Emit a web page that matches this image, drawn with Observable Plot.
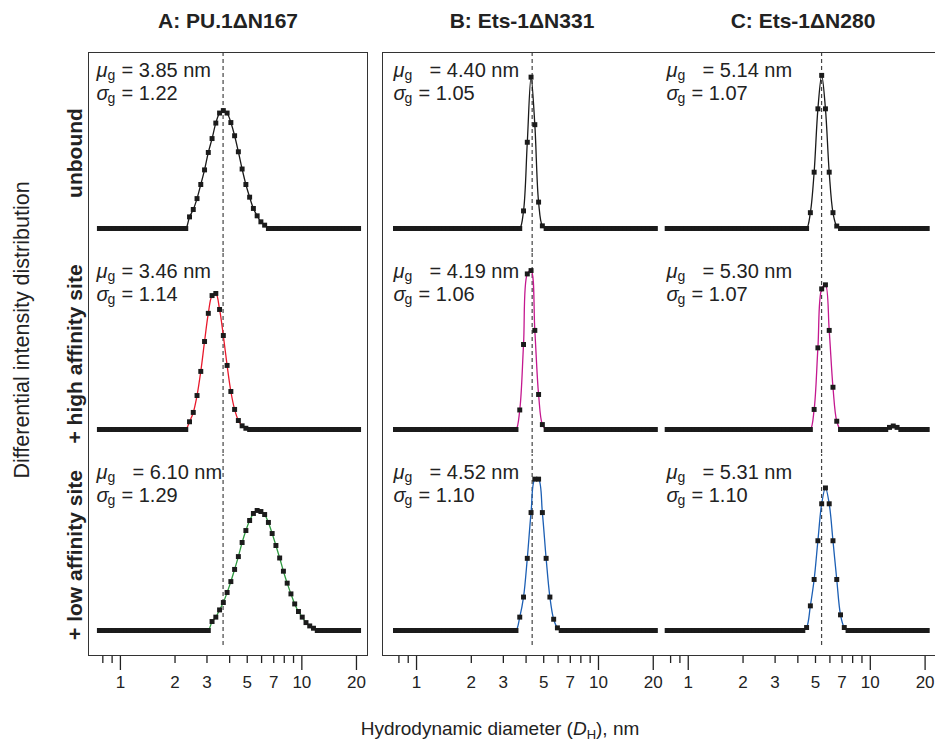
<!DOCTYPE html>
<html><head><meta charset="utf-8">
<script src="https://cdn.jsdelivr.net/npm/d3@7"></script>
<script src="https://cdn.jsdelivr.net/npm/@observablehq/plot@0.6"></script>
<style>
html,body{margin:0;padding:0;background:#fff;}
#fig{position:relative;width:935px;height:741px;overflow:hidden;font-family:"Liberation Sans",Arial,sans-serif;color:#222;}
.abs{position:absolute;top:0;}
.abs svg{max-width:none !important;}
.ttl{position:absolute;top:9px;font-weight:bold;font-size:21px;transform:translateX(-50%);white-space:nowrap;font-family:"Liberation Sans Narrow","Liberation Sans",sans-serif;}
.box{position:absolute;border:1.6px solid #333;box-sizing:border-box;}
.xt{position:absolute;top:718px;left:500px;transform:translateX(-50%);font-size:19px;white-space:nowrap;}
.xt sub{font-size:13px;vertical-align:-4px;}
</style></head>
<body><div id="fig"></div>
<script>
// ---------- data ----------
const rows = ["unbound", "high", "low"];
const rowLabels = ["unbound", "+ high affinity site", "+ low affinity site"];
const panelTitles = ["A: PU.1\u0394N167", "B: Ets-1\u0394N331", "C: Ets-1\u0394N280"];
// DLS size bins (nm)
const binsNm = [0.766,0.803,0.843,0.884,0.927,0.972,1.020,1.069,1.121,1.176,1.234,1.294,1.357,1.423,1.493,1.565,1.642,1.722,1.806,1.894,1.987,2.084,2.185,2.292,2.404,2.521,2.644,2.773,2.909,3.051,3.200,3.356,3.520,3.692,3.873,4.062,4.260,4.468,4.686,4.915,5.155,5.407,5.671,5.947,6.237,6.542,6.861,7.196,7.547,7.915,8.302,8.707,9.132,9.578,10.05,10.54,11.05,11.59,12.16,12.75,13.37,14.03,14.71,15.43,16.18,16.97,17.80,18.67,19.58,20.54];
// non-zero parts of each distribution: first bin index + values (arbitrary units)
const aUnboundStart = 24, aUnbound = [0.066,0.108,0.170,0.250,0.333,0.432,0.511,0.599,0.656,0.670,0.656,0.602,0.527,0.436,0.338,0.250,0.178,0.114,0.072,0.038,0.019];
const aHighStart = 24, aHigh = [0.044,0.097,0.193,0.330,0.500,0.660,0.761,0.773,0.682,0.534,0.364,0.216,0.114,0.051,0.021,0.007];
const aLowStart = 30, aLow = [0.051,0.076,0.117,0.159,0.216,0.278,0.347,0.420,0.500,0.568,0.625,0.665,0.682,0.676,0.659,0.614,0.551,0.483,0.412,0.337,0.269,0.208,0.151,0.108,0.076,0.045,0.026,0.013];
const bUnboundStart = 34, bUnbound = [0.10,0.49,0.86,0.59,0.15,0.015];
const bHighStart = 33, bHigh = [0.111,0.483,0.884,0.903,0.563,0.199,0.028];
const bLowStart = 33, bLow = [0.076,0.19,0.41,0.67,0.86,0.86,0.67,0.41,0.19,0.064,0.015];
const cUnboundStart = 38, cUnbound = [0.09,0.32,0.68,0.87,0.68,0.32,0.09,0.014];
const cHighStart = 39, cHigh = [0.114,0.464,0.799,0.822,0.563,0.24,0.047];
const cHighBumpStart = 59, cHighBump = [0.012,0.02,0.012];
const cLowStart = 37, cLow = [0.017,0.14,0.29,0.51,0.72,0.81,0.72,0.51,0.29,0.089,0.017];
// annotations
const muA = ["= 3.85 nm", "= 3.46 nm", "\u00a0\u00a0= 6.10 nm"];
const sigmaA = ["= 1.22", "= 1.14", "= 1.29"];
const muB = ["\u00a0\u00a0= 4.40 nm", "\u00a0\u00a0= 4.19 nm", "\u00a0\u00a0= 4.52 nm"];
const sigmaB = ["= 1.05", "= 1.06", "= 1.10"];
const muC = ["\u00a0\u00a0= 5.14 nm", "\u00a0\u00a0= 5.30 nm", "\u00a0\u00a0= 5.31 nm"];
const sigmaC = ["= 1.07", "= 1.07", "= 1.10"];
const dashedX = [3.68, 4.32, 5.40];  // unbound peak reference
const minorTicks = [0.8, 0.9, 2, 3, 4, 5, 6, 7, 8, 9];
const majorTicks = [1, 10, 20];
const tickLabels = [1, 2, 3, 5, 7, 10, 20];
const colorsA = ["#1a1a1a", "#e8192c", "#2f9a41"];
const colorsBC = ["#1a1a1a", "#c4188f", "#1c5fb4"];

// ---------- build ----------
function series(parts) {
  return binsNm.map((x, i) => {
    let y = 0;
    for (const [s, v] of parts) if (i >= s && i < s + v.length) y = v[i - s];
    return {x, y};
  });
}
const columns = [
  {peaks: [[[aUnboundStart, aUnbound]], [[aHighStart, aHigh]], [[aLowStart, aLow]]], mu: muA, sigma: sigmaA, colors: colorsA,
   domain: [0.667, 23.3], left: 0, mL: 88, w: 280, dx: 8},
  {peaks: [[[bUnboundStart, bUnbound]], [[bHighStart, bHigh]], [[bLowStart, bLow]]], mu: muB, sigma: sigmaB, colors: colorsBC,
   domain: [0.650, 22.2], left: 372, mL: 10, w: 279, dx: 11},
  {peaks: [[[cUnboundStart, cUnbound]], [[cHighStart, cHigh], [cHighBumpStart, cHighBump]], [[cLowStart, cLow]]], mu: muC, sigma: sigmaC, colors: colorsBC,
   domain: [0.713, 24.3], left: 651, mL: 10, w: 279, dx: 5}
];

const fig = document.getElementById("fig");
const FS = 20;

columns.forEach((col, c) => {
  const data = [];
  rows.forEach((r, k) => series(col.peaks[k]).forEach(d => data.push({...d, row: r})));
  const ann = rows.map((r, k) => ({row: r, mu: col.mu[k], sigma: col.sigma[k], label: rowLabels[k]}));
  const marks = [
    Plot.ruleX(rows.slice(0, 2), {x: () => dashedX[c], fy: d => d, stroke: "#444", strokeWidth: 1.2, strokeDasharray: "4,3"}),
    Plot.ruleX(rows.slice(2), {x: () => dashedX[c], fy: d => d, y1: -0.085, y2: 1, stroke: "#444", strokeWidth: 1.2, strokeDasharray: "4,3"}),
    Plot.line(data, {x: "x", y: "y", fy: "row", z: "row", stroke: "row", strokeWidth: 1.3, curve: "catmull-rom"}),
    Plot.dot(data, {x: "x", y: "y", fy: "row", symbol: "square", r: 2.8, fill: "#1b1b1b", stroke: null}),
    // annotations
    Plot.text(ann, {fy: "row", text: () => "\u03bc", frameAnchor: "top-left", dx: col.dx, dy: 10, fontSize: FS, fontStyle: "italic", lineAnchor: "top", textAnchor: "start", fill: "#222"}),
    Plot.text(ann, {fy: "row", text: () => "g", frameAnchor: "top-left", dx: col.dx + 11, dy: 18, fontSize: 14, lineAnchor: "top", textAnchor: "start", fill: "#222"}),
    Plot.text(ann, {fy: "row", text: "mu", frameAnchor: "top-left", dx: col.dx + 25, dy: 10, fontSize: FS, lineAnchor: "top", textAnchor: "start", fill: "#222"}),
    Plot.text(ann, {fy: "row", text: () => "\u03c3", frameAnchor: "top-left", dx: col.dx, dy: 33, fontSize: FS, fontStyle: "italic", lineAnchor: "top", textAnchor: "start", fill: "#222"}),
    Plot.text(ann, {fy: "row", text: () => "g", frameAnchor: "top-left", dx: col.dx + 11, dy: 41, fontSize: 14, lineAnchor: "top", textAnchor: "start", fill: "#222"}),
    Plot.text(ann, {fy: "row", text: "sigma", frameAnchor: "top-left", dx: col.dx + 25, dy: 33, fontSize: FS, lineAnchor: "top", textAnchor: "start", fill: "#222"}),
    // x axis
    Plot.axisX({ticks: minorTicks, tickSize: 8, tickFormat: () => "", label: null, strokeWidth: 1.3, stroke: "#222"}),
    Plot.axisX({ticks: majorTicks, tickSize: 15, tickFormat: () => "", label: null, strokeWidth: 1.3, stroke: "#222"}),
    Plot.axisX({ticks: tickLabels, tickSize: 0, tickPadding: 20, tickFormat: d => String(d), label: null, fontSize: 17, fill: "#222"})
  ];
  if (c === 0) {
    marks.push(Plot.text(ann, {fy: "row", text: "label", frameAnchor: "left", dx: -13, rotate: -90, textAnchor: "middle", lineAnchor: "middle", fontWeight: "bold", fontSize: 21, fill: "#222"}));
    marks.push(Plot.text(["Differential intensity distribution"], {fy: () => "high", text: d => d, frameAnchor: "left", dx: -66, dy: -24, rotate: -90, textAnchor: "middle", lineAnchor: "middle", fontSize: 21.5, fill: "#222"}));
  }
  const W = col.mL + col.w + 10;
  const svg = Plot.plot({
    width: W, height: 700,
    marginTop: 52, marginBottom: 45, marginLeft: col.mL, marginRight: 10,
    x: {type: "log", domain: col.domain, axis: null},
    y: {domain: [-0.142, 1], axis: null},
    fy: {domain: rows, padding: 0, axis: null},
    color: {domain: rows, range: col.colors},
    style: {fontFamily: "'Liberation Sans', Arial, sans-serif", fontSize: "17px", color: "#222", background: "transparent", overflow: "visible", maxWidth: "none"},
    marks
  });
  const wrap = document.createElement("div");
  wrap.className = "abs";
  wrap.style.left = col.left + "px";
  wrap.style.width = W + "px";
  wrap.appendChild(svg);
  fig.appendChild(wrap);
});

// frames
[[88, 280], [382, 600]].forEach(([l, w]) => {
  const b = document.createElement("div");
  b.className = "box";
  Object.assign(b.style, {left: l + "px", top: "52px", width: w + "px", height: "604px"});
  fig.appendChild(b);
});
// titles
[228, 522, 803].forEach((x, i) => {
  const t = document.createElement("div");
  t.className = "ttl"; t.style.left = x + "px"; t.textContent = panelTitles[i];
  fig.appendChild(t);
});
const xt = document.createElement("div");
xt.className = "xt";
xt.innerHTML = "Hydrodynamic diameter (<i>D</i><sub>H</sub>), nm";
fig.appendChild(xt);
</script>
</body></html>
